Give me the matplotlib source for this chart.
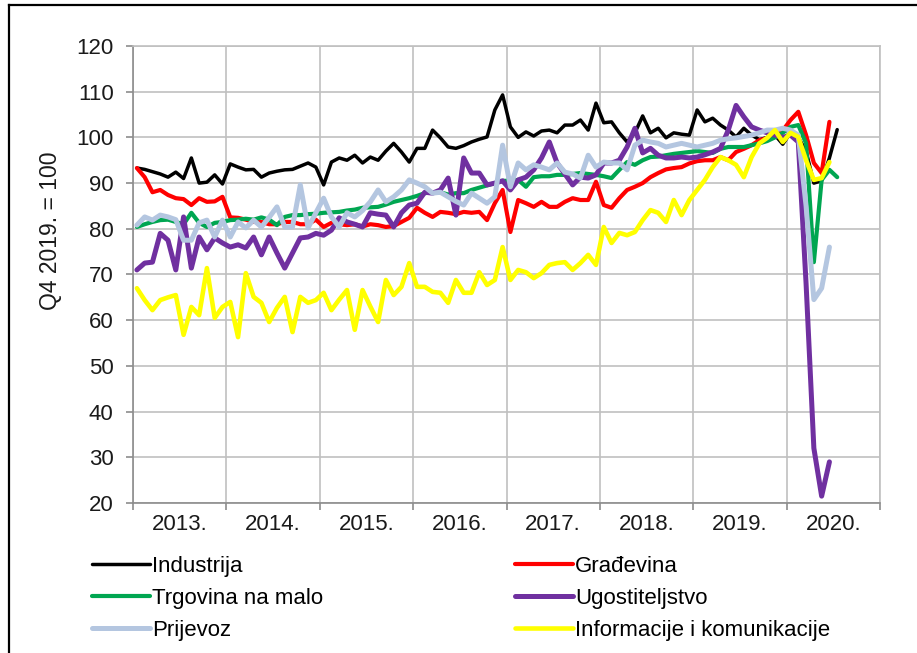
"""Monthly activity indices by sector, Q4 2019. = 100 (2013 - mid 2020)."""

import numpy as np
import matplotlib
matplotlib.use("Agg")
import matplotlib.pyplot as plt
from matplotlib import font_manager
from matplotlib.lines import Line2D

names = {f.name for f in font_manager.fontManager.ttflist}
FONT = "Liberation Sans Narrow" if "Liberation Sans Narrow" in names else "Liberation Sans"
plt.rcParams["font.family"] = [FONT, "DejaVu Sans"]

# ── data: one value per month, Jan 2013 .. Jul 2020 ────────────────────────
years = ["2013.", "2014.", "2015.", "2016.", "2017.", "2018.", "2019.", "2020."]
NA = None

industrija = [
    93.3, 93.0, 92.5, 92.0, 91.3, 92.4, 91.0, 95.5, 90.0, 90.2, 91.8, 89.8,
    94.2, 93.5, 92.9, 93.0, 91.3, 92.2, 92.6, 92.9, 93.0, 93.7, 94.4, 93.5,
    89.6, 94.6, 95.5, 95.0, 96.1, 94.4, 95.7, 95.0, 97.0, 98.7, 96.8, 94.6,
    97.6, 97.6, 101.6, 99.9, 97.9, 97.6, 98.2, 99.0, 99.6, 100.1, 106.0, 109.3,
    102.3, 100.0, 101.2, 100.3, 101.4, 101.6, 101.0, 102.7, 102.7, 103.8, 101.6, 107.5,
    103.2, 103.4, 101.0, 99.0, 101.0, 104.7, 101.0, 102.0, 99.9, 101.0, 100.7, 100.5,
    106.0, 103.4, 104.2, 102.7, 101.6, 100.1, 102.0, 100.5, 99.5, 100.0, 100.5, 98.5,
    101.0, 100.0, 97.0, 90.0, 90.5, 95.5, 101.7,
]
gradevina = [
    93.3, 91.3, 88.0, 88.5, 87.4, 86.7, 86.5, 85.2, 86.7, 85.9, 86.0, 87.0,
    82.5, 82.4, 82.0, 81.5, 81.5, 81.0, 81.0, 81.5, 81.5, 81.0, 81.0, 82.0,
    80.4, 81.3, 81.0, 80.8, 81.0, 80.5, 81.0, 80.8, 80.4, 80.6, 81.5, 82.4,
    84.6, 83.5, 82.6, 83.7, 83.5, 83.2, 83.7, 83.5, 83.7, 81.9, 85.6, 88.5,
    79.3, 86.3, 85.6, 84.8, 85.9, 84.8, 84.8, 85.9, 86.7, 86.3, 86.3, 90.3,
    85.2, 84.6, 86.7, 88.5, 89.2, 90.0, 91.3, 92.2, 93.0, 93.3, 93.5, 94.3,
    94.8, 95.0, 95.0, 95.7, 95.0, 96.8, 97.5, 98.3, 99.4, 99.8, 100.5, 101.5,
    103.8, 105.6, 100.5, 94.4, 92.2, 103.4, NA,
]
trgovina = [
    80.4, 81.0, 81.5, 81.9, 82.0, 81.5, 81.0, 83.5, 81.3, 80.4, 81.3, 81.5,
    81.9, 82.0, 82.2, 82.0, 82.5, 82.0, 80.8, 82.6, 83.0, 83.0, 83.2, 83.3,
    83.5, 83.6, 83.7, 84.0, 84.2, 84.6, 84.7, 84.8, 85.3, 85.9, 86.3, 86.7,
    87.2, 87.8, 88.0, 88.0, 87.5, 87.8, 87.8, 88.5, 89.0, 89.5, 90.0, 90.5,
    90.5, 90.7, 89.2, 91.3, 91.5, 91.5, 91.8, 91.8, 92.0, 92.2, 92.0, 91.8,
    91.5, 91.1, 92.9, 94.6, 94.0, 95.0, 95.7, 95.8, 96.1, 96.4, 96.6, 96.8,
    97.0, 96.8, 96.6, 97.5, 97.9, 97.9, 97.9, 98.3, 98.7, 99.2, 100.0, 101.0,
    102.3, 102.7, 98.7, 72.7, 90.7, 92.9, 91.3,
]
ugostiteljstvo = [
    71.0, 72.5, 72.7, 79.0, 77.5, 71.0, 82.6, 71.4, 78.2, 75.4, 78.0, 76.9,
    76.0, 76.5, 75.8, 78.2, 74.3, 78.2, 74.7, 71.4, 74.7, 78.0, 78.2, 79.0,
    78.6, 79.7, 82.4, 81.5, 81.0, 80.4, 83.5, 83.2, 83.0, 80.4, 83.5, 85.2,
    85.6, 88.0, 87.8, 88.5, 91.1, 83.0, 95.5, 92.2, 92.2, 89.6, 90.0, 90.5,
    88.5, 90.7, 91.3, 92.9, 95.5, 99.0, 94.4, 92.0, 89.6, 91.3, 91.1, 91.8,
    94.4, 94.4, 95.0, 97.9, 102.0, 96.6, 97.6, 96.1, 95.5, 95.5, 95.7, 95.5,
    95.7, 96.2, 96.8, 97.6, 101.6, 107.0, 104.5, 102.3, 101.6, 101.0, 100.5, 100.0,
    100.5, 99.0, 68.0, 32.0, 21.5, 29.0, NA,
]
prijevoz = [
    80.8, 82.6, 81.9, 83.0, 82.6, 82.0, 77.5, 77.5, 81.3, 81.9, 78.2, 81.9,
    78.2, 81.5, 80.2, 81.9, 80.4, 82.5, 84.8, 80.4, 80.4, 89.6, 80.2, 83.5,
    86.7, 82.6, 80.4, 83.5, 82.6, 84.0, 85.9, 88.5, 85.9, 87.0, 88.5, 90.7,
    90.0, 89.2, 87.8, 88.0, 87.0, 86.0, 85.2, 87.8, 86.7, 85.6, 87.0, 98.3,
    89.2, 94.4, 92.9, 94.0, 93.5, 92.9, 94.4, 92.4, 92.0, 91.1, 96.1, 93.5,
    94.6, 94.4, 94.4, 92.9, 98.3, 99.4, 99.0, 98.7, 97.9, 98.3, 98.7, 98.3,
    97.9, 98.3, 98.7, 99.4, 99.7, 99.9, 100.2, 100.5, 101.0, 101.6, 101.6, 102.0,
    101.6, 100.5, 85.0, 64.5, 67.0, 76.0, NA,
]
informacije = [
    67.0, 64.4, 62.2, 64.4, 65.0, 65.5, 56.8, 62.9, 61.1, 71.4, 60.5, 62.9,
    64.0, 56.3, 70.3, 65.1, 63.8, 59.6, 62.7, 65.1, 57.4, 65.1, 63.8, 64.4,
    66.0, 62.2, 64.5, 66.6, 57.9, 66.6, 63.0, 59.6, 68.8, 65.5, 67.3, 72.5,
    67.3, 67.3, 66.2, 66.0, 63.8, 68.8, 66.0, 66.0, 70.5, 67.7, 68.8, 76.0,
    68.8, 71.0, 70.5, 69.2, 70.3, 72.1, 72.5, 72.7, 71.0, 72.5, 74.3, 72.1,
    80.4, 76.9, 79.1, 78.6, 79.3, 81.9, 84.1, 83.5, 81.5, 86.3, 83.0, 86.3,
    88.5, 90.7, 93.5, 95.7, 95.0, 94.0, 91.3, 95.7, 98.7, 99.9, 101.6, 99.0,
    101.0, 100.1, 95.0, 90.7, 91.1, 94.6, NA,
]

SERIES = [
    ("Industrija", industrija, "#000000", 2.5),
    ("Građevina", gradevina, "#ff0000", 3.0),
    ("Trgovina na malo", trgovina, "#00a651", 3.0),
    ("Ugostiteljstvo", ugostiteljstvo, "#7030a0", 3.6),
    ("Prijevoz", prijevoz, "#b4c6e0", 3.6),
    ("Informacije i komunikacije", informacije, "#ffff00", 3.3),
]

fig = plt.figure(figsize=(9.17, 6.53), dpi=100)
ax = fig.add_axes([133 / 917, 1 - 503 / 653, 747 / 917, 457 / 653])

months = np.arange(len(industrija)) + 0.5
handles = []
for label, vals, color, lw in SERIES:
    y = np.array(vals, dtype=float)
    h, = ax.plot(months, y, color=color, linewidth=lw, label=label,
                 solid_joinstyle="round", solid_capstyle="round")
    handles.append(h)

# ── axes styling (Excel look) ───────────────────────────────────────────────
grid_c = "#c0c0c0"
ax.set_xlim(0, 12 * len(years))
ax.set_ylim(20, 120)
ax.set_yticks(np.arange(20, 121, 10))
ax.set_xticks(np.arange(0, 12 * len(years) + 1, 12))
ax.set_xticklabels([])
ax.set_xticks(np.arange(6, 12 * len(years), 12), minor=True)
ax.set_xticklabels(years, minor=True)
ax.grid(True, which="major", color=grid_c, linewidth=1.2)
ax.set_axisbelow(True)
for side in ("top", "right"):
    ax.spines[side].set_color(grid_c)
    ax.spines[side].set_linewidth(1.2)
for side in ("left", "bottom"):
    ax.spines[side].set_color("#8c8c8c")
    ax.spines[side].set_linewidth(1.2)
ax.tick_params(axis="y", which="major", length=5, width=1.2, color="#8c8c8c",
               pad=9, labelsize=16, labelcolor="#1a1a1a")
ax.tick_params(axis="x", which="major", length=5, width=1.2, color="#8c8c8c")
ax.tick_params(axis="x", which="minor", length=0, pad=8, labelsize=16,
               labelcolor="#1a1a1a")

ax.set_ylabel("Q4 2019. = 100", fontsize=16.5, color="#1a1a1a")
ax.yaxis.set_label_coords(-0.095, 0.595)

# ── legend: two columns, row-major order as in the original ────────────────
leg_kw = dict(frameon=False, loc="upper left", fontsize=16, handlelength=2.6,
              handletextpad=0.1, labelspacing=0.5, borderpad=0, borderaxespad=0)
fig.legend([handles[0], handles[2], handles[4]],
           [handles[0].get_label(), handles[2].get_label(), handles[4].get_label()],
           bbox_to_anchor=(92 / 917, 1 - 556 / 653), **leg_kw)
fig.legend([handles[1], handles[3], handles[5]],
           [handles[1].get_label(), handles[3].get_label(), handles[5].get_label()],
           bbox_to_anchor=(515 / 917, 1 - 556 / 653), **leg_kw)

# outer frame (left and top edges visible in the original)
fig.add_artist(Line2D([9 / 917, 9 / 917], [0, 1 - 5 / 653], transform=fig.transFigure,
                      color="black", linewidth=1.6))
fig.add_artist(Line2D([9 / 917, 1], [1 - 5 / 653, 1 - 5 / 653], transform=fig.transFigure,
                      color="black", linewidth=1.6))

fig.savefig("out.png", dpi=100)
